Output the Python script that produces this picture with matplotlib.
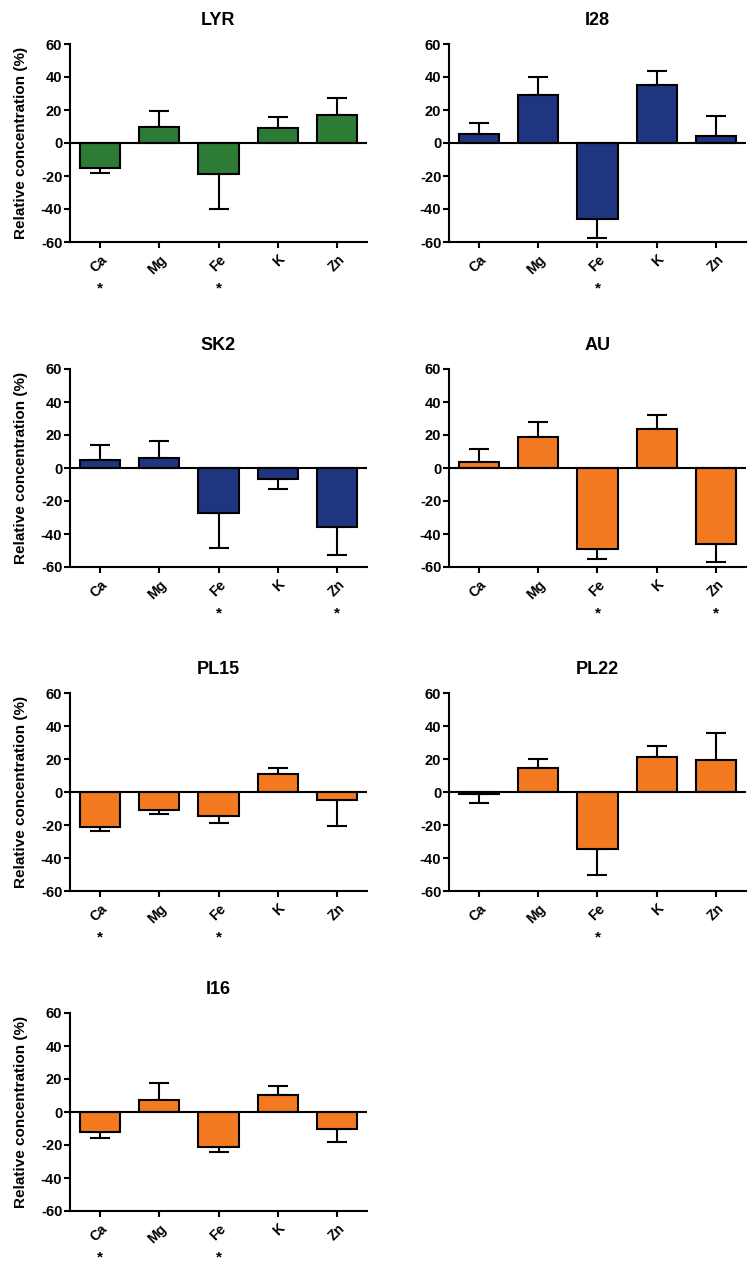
import numpy as np
import matplotlib.pyplot as plt

plt.rcParams['font.family'] = ['Liberation Sans', 'DejaVu Sans']
plt.rcParams['font.weight'] = 'bold'
plt.rcParams['axes.unicode_minus'] = False

elements = ["Ca", "Mg", "Fe", "K", "Zn"]

# mean relative concentration (%) and one-sided error bars
lyr_vals = [-15, 10, -19, 9, 17]
lyr_err = [3, 9.5, 21, 7, 10]
i28_vals = [5.5, 29, -46, 35, 4.5]
i28_err = [6.5, 11, 11.5, 8.5, 12]
sk2_vals = [4.7, 6.3, -27, -6.5, -36]
sk2_err = [9.5, 10, 21.5, 6.3, 16.5]
au_vals = [3.5, 18.5, -49, 23.5, -46]
au_err = [8, 9.3, 6, 8.7, 11]
pl15_vals = [-21, -11, -14.5, 10.7, -4.8]
pl15_err = [2.5, 2.5, 4.5, 3.8, 15.7]
pl22_vals = [-1, 14.5, -34.5, 21, 19.5]
pl22_err = [5.5, 5.5, 15.7, 6.7, 16]
i16_vals = [-12, 7, -21, 10.5, -10]
i16_err = [3.5, 10.7, 3.5, 5.5, 8]

# which elements carry a "*"
lyr_star = ["Ca", "Fe"]
i28_star = ["Fe"]
sk2_star = ["Fe", "Zn"]
au_star = ["Fe", "Zn"]
pl15_star = ["Ca", "Fe"]
pl22_star = ["Fe"]
i16_star = ["Ca", "Fe"]

green = "#2e7b36"
blue = "#1f3580"
orange = "#f37a20"

panels = [
    ("LYR", lyr_vals, lyr_err, lyr_star, green),
    ("I28", i28_vals, i28_err, i28_star, blue),
    ("SK2", sk2_vals, sk2_err, sk2_star, blue),
    ("AU", au_vals, au_err, au_star, orange),
    ("PL15", pl15_vals, pl15_err, pl15_star, orange),
    ("PL22", pl22_vals, pl22_err, pl22_star, orange),
    ("I16", i16_vals, i16_err, i16_star, orange),
]

W, H = 752, 1262
fig = plt.figure(figsize=(W / 100, H / 100), dpi=100)

lefts = [70, 449]
tops = [44, 369, 693, 1013]
aw, ah = 297, 198

for k, (name, vals, err, stars, col) in enumerate(panels):
    r, c = divmod(k, 2)
    ax = fig.add_axes([lefts[c] / W, 1 - (tops[r] + ah) / H, aw / W, ah / H])
    x = np.arange(len(elements))
    vals = np.array(vals)
    err = np.array(err)
    lower = np.where(vals < 0, err, 0)
    upper = np.where(vals >= 0, err, 0)
    ax.bar(x, vals, width=0.68, color=col, edgecolor="black", linewidth=1.5, zorder=2)
    ax.errorbar(x, vals, yerr=[lower, upper], fmt="none", ecolor="black",
                elinewidth=1.5, capsize=7, capthick=1.5, zorder=1)
    ax.axhline(0, color="black", linewidth=1.5, zorder=3)
    ax.set_xlim(-0.5, 4.5)
    ax.set_ylim(-60, 60)
    ax.set_yticks([-60, -40, -20, 0, 20, 40, 60])
    ax.set_xticks(x)
    ax.set_xticklabels(elements, rotation=45, ha="right", rotation_mode="anchor",
                       fontsize=10, fontweight="bold")
    ax.tick_params(axis="y", labelsize=10.5, width=1.5, length=4, pad=1.5)
    ax.tick_params(axis="x", width=1.5, length=4)
    for lab in ax.get_yticklabels():
        lab.set_fontweight("bold")
    for s in ["top", "right"]:
        ax.spines[s].set_visible(False)
    for s in ["left", "bottom"]:
        ax.spines[s].set_linewidth(1.5)
    ax.set_title(name, fontsize=13, fontweight="bold", pad=14)
    if c == 0:
        ax.set_ylabel("Relative concentration (%)", fontsize=11, fontweight="bold",
                      labelpad=9)
    for e in stars:
        i = elements.index(e)
        ax.text(i, -0.235, "*", transform=ax.get_xaxis_transform(),
                ha="center", va="center", fontsize=11, fontweight="bold")

fig.savefig("out.png", dpi=100)
